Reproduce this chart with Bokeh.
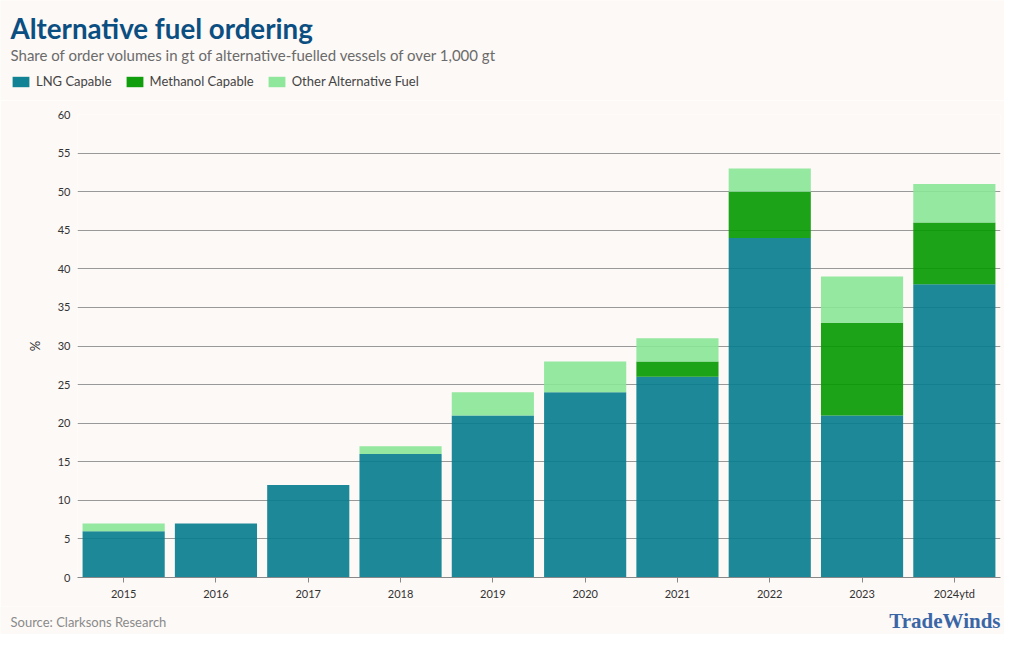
from bokeh.plotting import figure
from bokeh.layouts import column, row
from bokeh.models import (ColumnDataSource, Legend, LegendItem, Label,
                          FactorRange, Range1d, SingleIntervalTicker)
from bokeh.embed import file_html
from bokeh.resources import INLINE

years = ["2015", "2016", "2017", "2018", "2019", "2020", "2021", "2022", "2023", "2024ytd"]
lng = [6, 7, 12, 16, 21, 24, 26, 44, 21, 38]
methanol = [0, 0, 0, 0, 0, 0, 2, 6, 12, 8]
other = [1, 0, 0, 1, 3, 4, 3, 3, 6, 5]
series_names = ["LNG Capable", "Methanol Capable", "Other Alternative Fuel"]
colors = ["#047c8e", "#039900", "#88e696"]

title_text = "Alternative fuel ordering"
subtitle_text = "Share of order volumes in gt of alternative-fuelled vessels of over 1,000 gt"
source_text = "Source: Clarksons Research"
brand_text = "TradeWinds"

BG = "#fdf9f6"
FONT = "Lato"
W = 1004
HEAD_H, MAIN_H, FOOT_H = 100, 506, 28


def blank(h):
    f = figure(width=W, height=h, x_range=Range1d(0, W), y_range=Range1d(h, 0),
               output_backend="svg", toolbar_location=None,
               x_axis_location=None, y_axis_location=None,
               background_fill_color=BG, border_fill_color=BG, outline_line_color=None,
               min_border=0, min_border_left=0, min_border_right=0,
               min_border_top=0, min_border_bottom=0)
    f.xgrid.visible = False
    f.ygrid.visible = False
    return f


# ---------- header ----------
head = blank(HEAD_H)
head.add_layout(Label(x=10, y=28, text=title_text, text_font=FONT, text_font_size="27.7px",
                      text_font_style="bold", text_color="#0b4f82",
                      text_baseline="middle", text_align="left"))
head.add_layout(Label(x=10, y=54, text=subtitle_text, text_font=FONT, text_font_size="15px",
                      text_color="#6b6b6b", text_baseline="middle", text_align="left"))
offscreen = ColumnDataSource(dict(x=[-1000], top=[-1000]))
dummies = [head.vbar(x="x", top="top", width=1, source=offscreen, fill_color=c, fill_alpha=0.95,
                     line_color=None) for c in colors]
legend = Legend(items=[LegendItem(label=n, renderers=[r]) for n, r in zip(series_names, dummies)],
                orientation="horizontal", location=(10, 11),
                background_fill_alpha=0, border_line_alpha=0,
                label_text_font=FONT, label_text_font_size="13px", label_text_color="#444444",
                glyph_width=21, glyph_height=13, spacing=12, padding=0, margin=0,
                label_standoff=5, label_height=13)
head.add_layout(legend)

# ---------- main chart ----------
src = ColumnDataSource(dict(year=years, lng=lng, methanol=methanol, other=other))

p = figure(x_range=FactorRange(*years), y_range=Range1d(0, 60),
           width=W, height=MAIN_H, output_backend="svg", toolbar_location=None,
           background_fill_color=BG, border_fill_color=BG, outline_line_color=None,
           min_border_left=77, min_border_right=4, min_border_bottom=29,
           min_border_top=14)

p.vbar_stack(["lng", "methanol", "other"], x="year", width=0.89,
             color=colors, fill_alpha=0.9, line_color=None, source=src)

p.yaxis.ticker = SingleIntervalTicker(interval=5)
p.yaxis.axis_line_color = None
p.yaxis.major_tick_line_color = None
p.yaxis.major_tick_out = 0
p.yaxis.major_tick_in = 0
p.yaxis.minor_tick_line_color = None
p.yaxis.major_label_text_font = FONT
p.yaxis.major_label_text_font_size = "11px"
p.yaxis.major_label_text_color = "#333333"
p.yaxis.major_label_standoff = 3
p.yaxis.axis_label = "%"
p.yaxis.axis_label_text_font = FONT
p.yaxis.axis_label_text_font_style = "normal"
p.yaxis.axis_label_text_font_size = "13px"
p.yaxis.axis_label_text_color = "#333333"
p.yaxis.axis_label_standoff = 12

p.xaxis.axis_line_color = "#888888"
p.xaxis.major_tick_line_color = "#888888"
p.xaxis.major_tick_out = 5
p.xaxis.major_tick_in = 0
p.xaxis.major_label_text_font = FONT
p.xaxis.major_label_text_font_size = "11px"
p.xaxis.major_label_text_color = "#333333"
p.xaxis.major_label_standoff = 4

p.xgrid.visible = False
p.ygrid.grid_line_color = "#999999"
p.ygrid.grid_line_width = 1

# ---------- footer ----------
foot = blank(FOOT_H)
foot.add_layout(Label(x=10, y=15, text=source_text, text_font=FONT, text_font_size="13px",
                      text_color="#8a8a8a", text_baseline="middle", text_align="left"))
foot.add_layout(Label(x=1000, y=14, text=brand_text, text_font="Liberation Serif",
                      text_font_size="21px", text_font_style="bold", text_color="#3a66a6",
                      text_baseline="middle", text_align="right"))

layout = column(row(head), p, row(foot), spacing=0)
open("out.html", "w").write(file_html(layout, INLINE))
